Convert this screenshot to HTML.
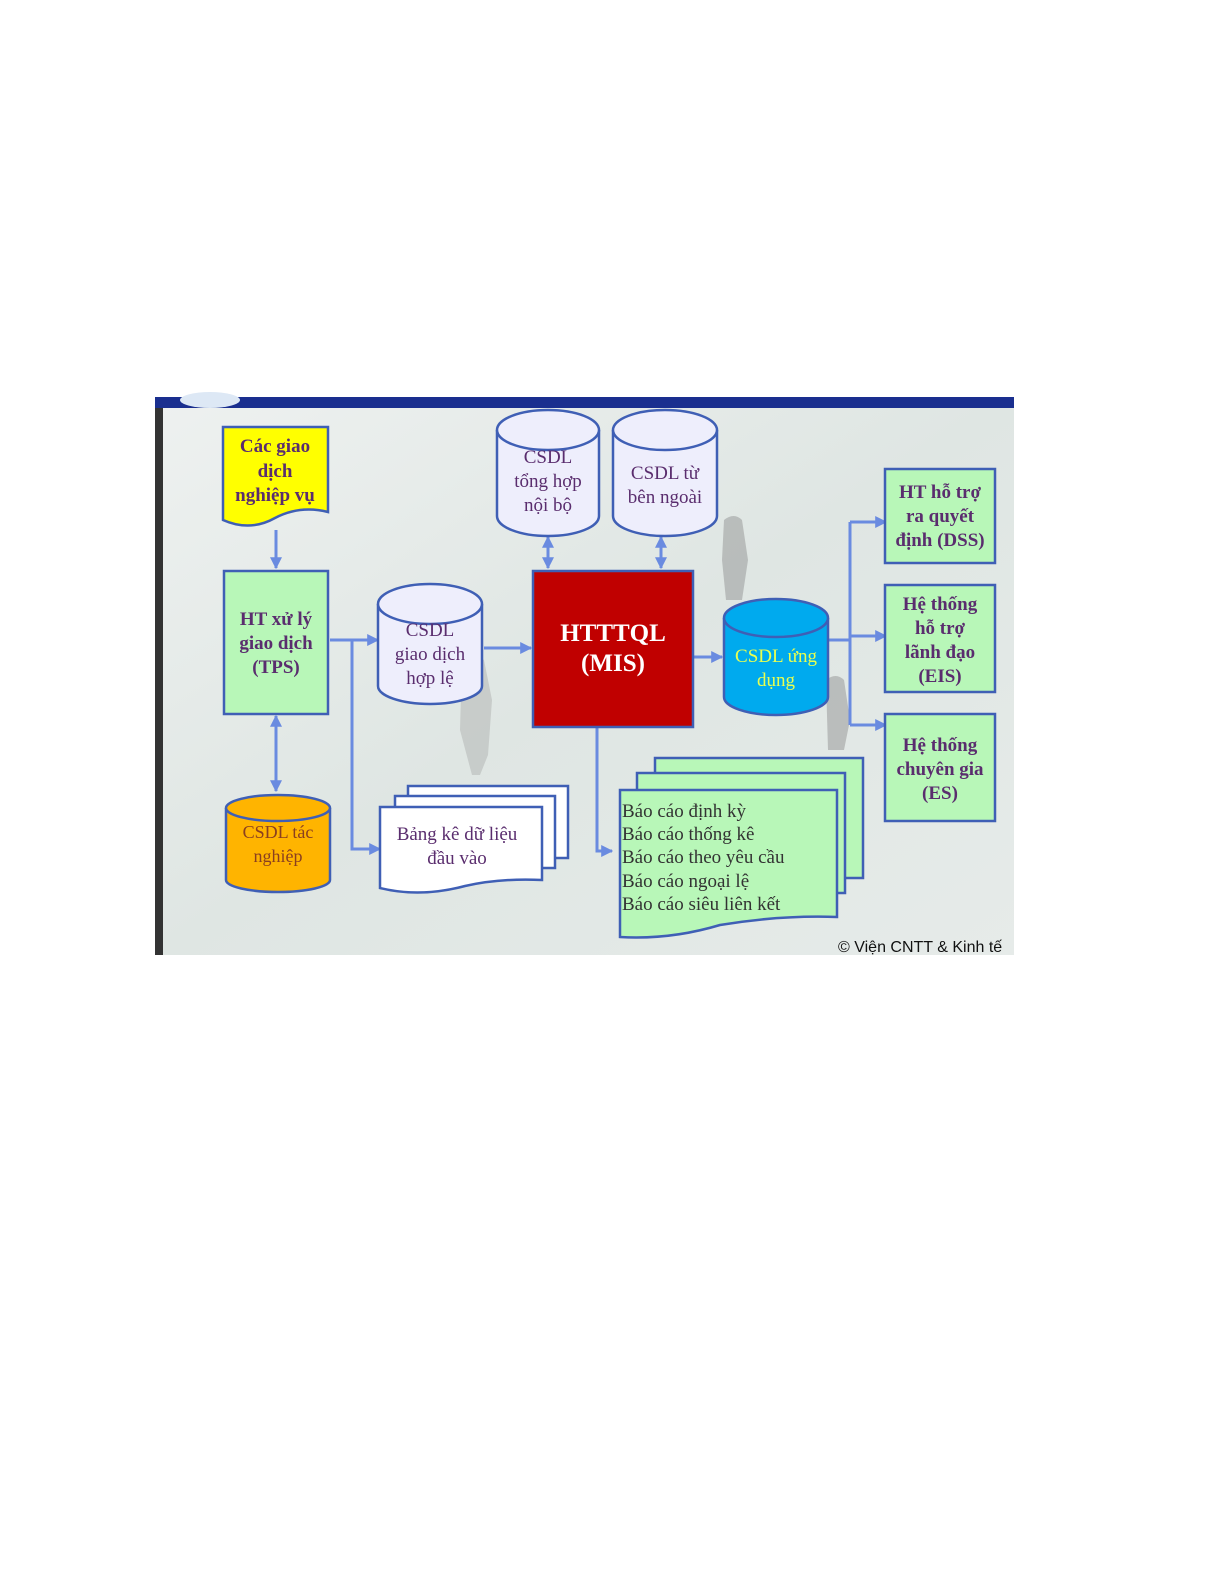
<!DOCTYPE html>
<html><head><meta charset="utf-8"><style>
html,body{margin:0;padding:0;background:#fff;}
svg{display:block}
.t{font-family:"Liberation Serif",serif;fill:#5a2d6e;text-anchor:middle}
.b{font-weight:bold;font-size:19px}
</style></head><body>
<svg width="1225" height="1585" viewBox="0 0 1225 1585" xmlns="http://www.w3.org/2000/svg">
<defs>
<linearGradient id="bg" x1="0" y1="0" x2="1" y2="1">
<stop offset="0" stop-color="#eef1f0"/><stop offset="0.5" stop-color="#dfe6e3"/><stop offset="1" stop-color="#e6ebe9"/>
</linearGradient>
<marker id="a" viewBox="0 0 10 10" refX="9" refY="5" markerWidth="4" markerHeight="4" orient="auto-start-reverse"><path d="M0 0L10 5L0 10z" fill="#6a8be0"/></marker>
</defs>
<rect x="155" y="397" width="859" height="558" fill="url(#bg)"/>
<rect x="155" y="397" width="8" height="558" fill="#333"/>
<rect x="155" y="397" width="859" height="11" fill="#1a2f8f"/>
<ellipse cx="210" cy="400" rx="30" ry="8" fill="#dde8f5"/>
<!-- faint figures -->
<path d="M462 660 q12 -8 22 0 l8 40 -4 55 -8 20 -8 0 -12 -45 z" fill="#9a9a9a" opacity="0.35"/>
<path d="M724 520 q10 -8 18 0 l6 40 -6 40 -16 0 -4 -40z" fill="#8a8a8a" opacity="0.45"/>
<path d="M826 680 q10 -8 18 0 l6 40 -6 30 -16 0z" fill="#8a8a8a" opacity="0.45"/>
<g fill="none" stroke="#6a8be0" stroke-width="3">
<line x1="276" y1="530" x2="276" y2="568" marker-end="url(#a)"/>
<line x1="276" y1="716" x2="276" y2="791" marker-start="url(#a)" marker-end="url(#a)"/>
<line x1="330" y1="640" x2="378" y2="640" marker-end="url(#a)"/>
<polyline points="352,640 352,849 380,849" marker-end="url(#a)"/>
<line x1="484" y1="648" x2="531" y2="648" marker-end="url(#a)"/>
<line x1="548" y1="537" x2="548" y2="568" marker-start="url(#a)" marker-end="url(#a)"/>
<line x1="661" y1="537" x2="661" y2="568" marker-start="url(#a)" marker-end="url(#a)"/>
<line x1="694" y1="657" x2="722" y2="657" marker-end="url(#a)"/>
<line x1="829" y1="640" x2="850" y2="640"/>
<line x1="850" y1="522" x2="850" y2="725"/>
<line x1="850" y1="522" x2="886" y2="522" marker-end="url(#a)"/>
<line x1="850" y1="636" x2="886" y2="636" marker-end="url(#a)"/>
<line x1="850" y1="725" x2="886" y2="725" marker-end="url(#a)"/>
<polyline points="597,727 597,851 612,851" marker-end="url(#a)"/>
</g>
<g stroke="#3f5fb5" stroke-width="2.5">
<path d="M223 427 H328 V512 Q300 505 275 518 Q250 532 223 520 Z" fill="#ffff00"/>
<rect x="224" y="571" width="104" height="143" fill="#b8f7b8"/>
<path d="M226 808 V880 A52 12 0 0 0 330 880 V808" fill="#ffb400"/>
<ellipse cx="278" cy="808" rx="52" ry="13" fill="#ffb400"/>
<path d="M378 604 V686 A52 18 0 0 0 482 686 V604" fill="#eeeefc"/>
<ellipse cx="430" cy="604" rx="52" ry="20" fill="#eeeefc"/>
<path d="M497 430 V516 A51 20 0 0 0 599 516 V430" fill="#eeeefc"/>
<ellipse cx="548" cy="430" rx="51" ry="20" fill="#eeeefc"/>
<path d="M613 430 V516 A52 20 0 0 0 717 516 V430" fill="#eeeefc"/>
<ellipse cx="665" cy="430" rx="52" ry="20" fill="#eeeefc"/>
<rect x="533" y="571" width="160" height="156" fill="#c00000"/>
<path d="M724 618 V697 A52 18 0 0 0 828 697 V618" fill="#00aaee"/>
<ellipse cx="776" cy="618" rx="52" ry="19" fill="#00aaee"/>
<rect x="885" y="469" width="110" height="94" fill="#b8f7b8"/>
<rect x="885" y="585" width="110" height="107" fill="#b8f7b8"/>
<rect x="885" y="714" width="110" height="107" fill="#b8f7b8"/>
<rect x="408" y="786" width="160" height="72" fill="#fff"/>
<rect x="395" y="796" width="160" height="72" fill="#fff"/>
<path d="M380 807 H542 V880 Q500 878 465 886 Q420 898 380 888 Z" fill="#fff"/>
<rect x="655" y="758" width="208" height="120" fill="#b8f7b8"/>
<rect x="637" y="773" width="208" height="120" fill="#b8f7b8"/>
<path d="M620 790 H837 V917 Q780 915 720 925 Q670 940 620 937 Z" fill="#b8f7b8"/>
</g>
<g class="t">
<text class="b" x="275" y="452">Các giao</text>
<text class="b" x="275" y="477">dịch</text>
<text class="b" x="275" y="501">nghiệp vụ</text>
<text class="b" x="276" y="625">HT xử lý</text>
<text class="b" x="276" y="649">giao dịch</text>
<text class="b" x="276" y="673">(TPS)</text>
<text x="278" y="838" font-size="18" fill="#8a3f20">CSDL tác</text>
<text x="278" y="862" font-size="18" fill="#8a3f20">nghiệp</text>
<text x="430" y="636" font-size="19">CSDL</text>
<text x="430" y="660" font-size="19">giao dịch</text>
<text x="430" y="684" font-size="19">hợp lệ</text>
<text x="548" y="463" font-size="19">CSDL</text>
<text x="548" y="487" font-size="19">tổng hợp</text>
<text x="548" y="511" font-size="19">nội bộ</text>
<text x="665" y="479" font-size="19">CSDL từ</text>
<text x="665" y="503" font-size="19">bên ngoài</text>
<text x="613" y="641" font-size="25" font-weight="bold" fill="#fff">HTTTQL</text>
<text x="613" y="671" font-size="25" font-weight="bold" fill="#fff">(MIS)</text>
<text x="776" y="662" font-size="19" fill="#e8ff50">CSDL ứng</text>
<text x="776" y="686" font-size="19" fill="#e8ff50">dụng</text>
<text class="b" x="940" y="498">HT hỗ trợ</text>
<text class="b" x="940" y="522">ra quyết</text>
<text class="b" x="940" y="546">định (DSS)</text>
<text class="b" x="940" y="610">Hệ thống</text>
<text class="b" x="940" y="634">hỗ trợ</text>
<text class="b" x="940" y="658">lãnh đạo</text>
<text class="b" x="940" y="682">(EIS)</text>
<text class="b" x="940" y="751">Hệ thống</text>
<text class="b" x="940" y="775">chuyên gia</text>
<text class="b" x="940" y="799">(ES)</text>
<text x="457" y="840" font-size="19">Bảng kê dữ liệu</text>
<text x="457" y="864" font-size="19">đầu vào</text>
</g>
<g font-family="Liberation Serif,serif" font-size="19" fill="#333">
<text x="622" y="817">Báo cáo định kỳ</text>
<text x="622" y="840">Báo cáo thống kê</text>
<text x="622" y="863">Báo cáo theo yêu cầu</text>
<text x="622" y="887">Báo cáo ngoại lệ</text>
<text x="622" y="910">Báo cáo siêu liên kết</text>
</g>
<text x="838" y="952" font-family="Liberation Sans,sans-serif" font-size="16" fill="#111">© Viện CNTT &amp; Kinh tế</text>
<rect x="1014" y="940" width="30" height="20" fill="#fff"/>
</svg>
</body></html>
